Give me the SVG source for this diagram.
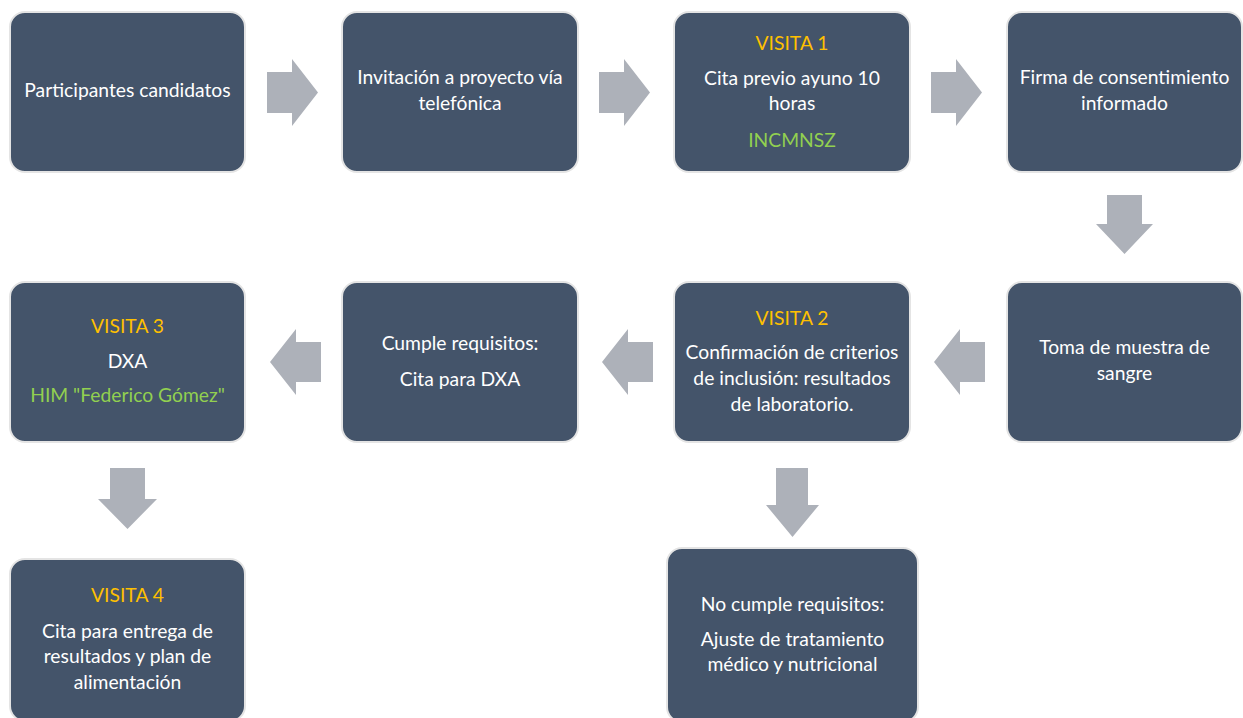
<svg xmlns="http://www.w3.org/2000/svg" width="1243" height="718" viewBox="0 0 1243 718">
<style>
  .box{fill:#44546A;stroke:#E4E4E4;stroke-width:2}
  .arrow{fill:#ADB1B9}
  text{font-family:Lato,"Open Sans","Liberation Sans",sans-serif;font-size:19.3px;text-anchor:middle;fill:#FFFFFF}
  .visit{fill:#FFC000}
  .place{fill:#92D050}
</style>
<rect width="1243" height="718" fill="#FFFFFF"/>
<g id="connectors">
  <polygon class="arrow" points="267,72 292,72 292,59 318,92.5 292,126 292,113 267,113"/>
  <polygon class="arrow" points="599,72 624,72 624,59 650,92.5 624,126 624,113 599,113"/>
  <polygon class="arrow" points="931,72 956,72 956,59 982,92.5 956,126 956,113 931,113"/>
  <polygon class="arrow" points="1107,195 1142,195 1142,224 1153,224 1124.5,254 1096,224 1107,224"/>
  <polygon class="arrow" points="985,342 960,342 960,329 934,362 960,395 960,382 985,382"/>
  <polygon class="arrow" points="653,342 628,342 628,329 602,362 628,395 628,382 653,382"/>
  <polygon class="arrow" points="321,342 296,342 296,329 270,362 296,395 296,382 321,382"/>
  <polygon class="arrow" points="110,468 145,468 145,499 157,499 127.5,529 98,499 110,499"/>
  <polygon class="arrow" points="776,468 808,468 808,505 819,505 792.5,537 766,505 776,505"/>
</g>
<g id="node-participantes">
  <rect class="box" x="10" y="12" width="235" height="160" rx="15"/>
  <text x="127.5" y="97">Participantes candidatos</text>
</g>
<g id="node-invitacion">
  <rect class="box" x="342" y="12" width="236" height="160" rx="15"/>
  <text x="460" y="84">Invitación a proyecto vía</text>
  <text x="460" y="110">telefónica</text>
</g>
<g id="node-visita1">
  <rect class="box" x="674" y="12" width="236" height="160" rx="15"/>
  <text class="visit" x="792" y="50">VISITA 1</text>
  <text x="792" y="85">Cita previo ayuno 10</text>
  <text x="792" y="110">horas</text>
  <text class="place" x="792" y="147">INCMNSZ</text>
</g>
<g id="node-firma">
  <rect class="box" x="1007" y="12" width="235" height="160" rx="15"/>
  <text x="1124.5" y="84">Firma de consentimiento</text>
  <text x="1124.5" y="110">informado</text>
</g>
<g id="node-toma">
  <rect class="box" x="1007" y="282" width="235" height="160" rx="15"/>
  <text x="1124.5" y="354">Toma de muestra de</text>
  <text x="1124.5" y="380">sangre</text>
</g>
<g id="node-visita2">
  <rect class="box" x="674" y="282" width="236" height="160" rx="15"/>
  <text class="visit" x="792" y="325">VISITA 2</text>
  <text x="792" y="359">Confirmación de criterios</text>
  <text x="792" y="385">de inclusión: resultados</text>
  <text x="792" y="411">de laboratorio.</text>
</g>
<g id="node-cumple">
  <rect class="box" x="342" y="282" width="236" height="160" rx="15"/>
  <text x="460" y="350">Cumple requisitos:</text>
  <text x="460" y="386">Cita para DXA</text>
</g>
<g id="node-visita3">
  <rect class="box" x="10" y="282" width="235" height="160" rx="15"/>
  <text class="visit" x="127.5" y="333">VISITA 3</text>
  <text x="127.5" y="368">DXA</text>
  <text class="place" x="127.5" y="402">HIM "Federico Gómez"</text>
</g>
<g id="node-visita4">
  <rect class="box" x="10" y="559" width="235" height="162" rx="15"/>
  <text class="visit" x="127.5" y="602">VISITA 4</text>
  <text x="127.5" y="638">Cita para entrega de</text>
  <text x="127.5" y="663">resultados y plan de</text>
  <text x="127.5" y="689">alimentación</text>
</g>
<g id="node-nocumple">
  <rect class="box" x="667" y="548" width="251" height="174" rx="15"/>
  <text x="792.5" y="611">No cumple requisitos:</text>
  <text x="792.5" y="646">Ajuste de tratamiento</text>
  <text x="792.5" y="671">médico y nutricional</text>
</g>
</svg>
